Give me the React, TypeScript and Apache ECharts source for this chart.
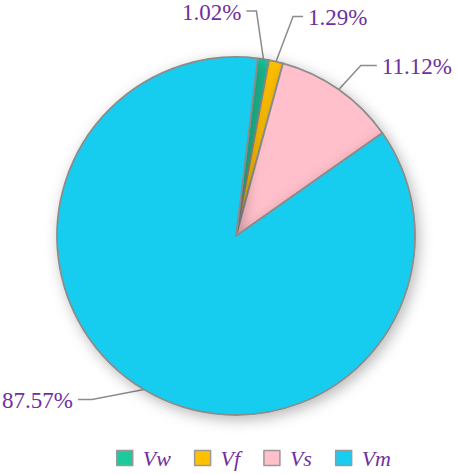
import React, { useEffect, useRef } from "react";
import * as echarts from "echarts";

const categories = ["Vw", "Vf", "Vs", "Vm"];
const values = [1.02, 1.29, 11.12, 87.57];
const colors = ["#1ccb9c", "#ffc000", "#ffc0cb", "#19cdf0"];
// leader-line elbow offsets (from slice edge) and horizontal run (sign = side)
const elbowDx = [-7, 17, 22, -52];
const elbowDy = [-48, -45, -24, 10];
const run = [-10, 10, 16, -14];

export default function App() {
  const ref = useRef<HTMLDivElement>(null);
  useEffect(() => {
    const chart = echarts.init(ref.current!, null, { renderer: "svg" });
    chart.setOption({
      animation: false,
      backgroundColor: "#ffffff",
      legend: {
        top: 442,
        left: 111,
        itemWidth: 16,
        itemHeight: 15,
        itemGap: 23,
        icon: "rect",
        data: categories,
        textStyle: {
          fontFamily: "Liberation Serif",
          fontStyle: "italic",
          fontSize: 22,
          color: "#7030a0",
          padding: [0, 0, 0, 5],
        },
        itemStyle: { borderColor: "#999999", borderWidth: 1.5 },
      },
      series: [
        {
          type: "pie",
          center: [236, 236],
          radius: 179,
          startAngle: 83,
          clockwise: true,
          avoidLabelOverlap: false,
          itemStyle: {
            borderColor: "#8c8c8c",
            borderWidth: 1.8,
            shadowBlur: 14,
            shadowColor: "rgba(0,0,0,0.28)",
            shadowOffsetX: 3,
            shadowOffsetY: 4,
          },
          label: {
            formatter: "{c}%",
            fontFamily: "Liberation Serif",
            fontSize: 23,
            color: "#7030a0",
          },
          labelLine: {
            length: 30,
            length2: 10,
            lineStyle: { color: "#8c8c8c", width: 1.5 },
          },
          labelLayout: (p: any) => {
            const i = p.dataIndex;
            const pts = p.labelLinePoints;
            if (!pts) return {};
            const p0 = pts[0];
            const p1 = [p0[0] + elbowDx[i], p0[1] + elbowDy[i]];
            const p2 = [p1[0] + run[i], p1[1]];
            const right = run[i] > 0;
            return {
              x: p2[0] + (right ? 5 : -5),
              y: p2[1] + 1,
              align: right ? "left" : "right",
              verticalAlign: "middle",
              labelLinePoints: [p0, p1, p2],
            };
          },
          data: categories.map((c, i) => ({
            name: c,
            value: values[i],
            itemStyle: { color: colors[i] },
          })),
        },
      ],
    });
    return () => chart.dispose();
  }, []);
  return (
    <div
      ref={ref}
      style={{ position: "absolute", left: 0, top: 0, width: 457, height: 474 }}
    />
  );
}
